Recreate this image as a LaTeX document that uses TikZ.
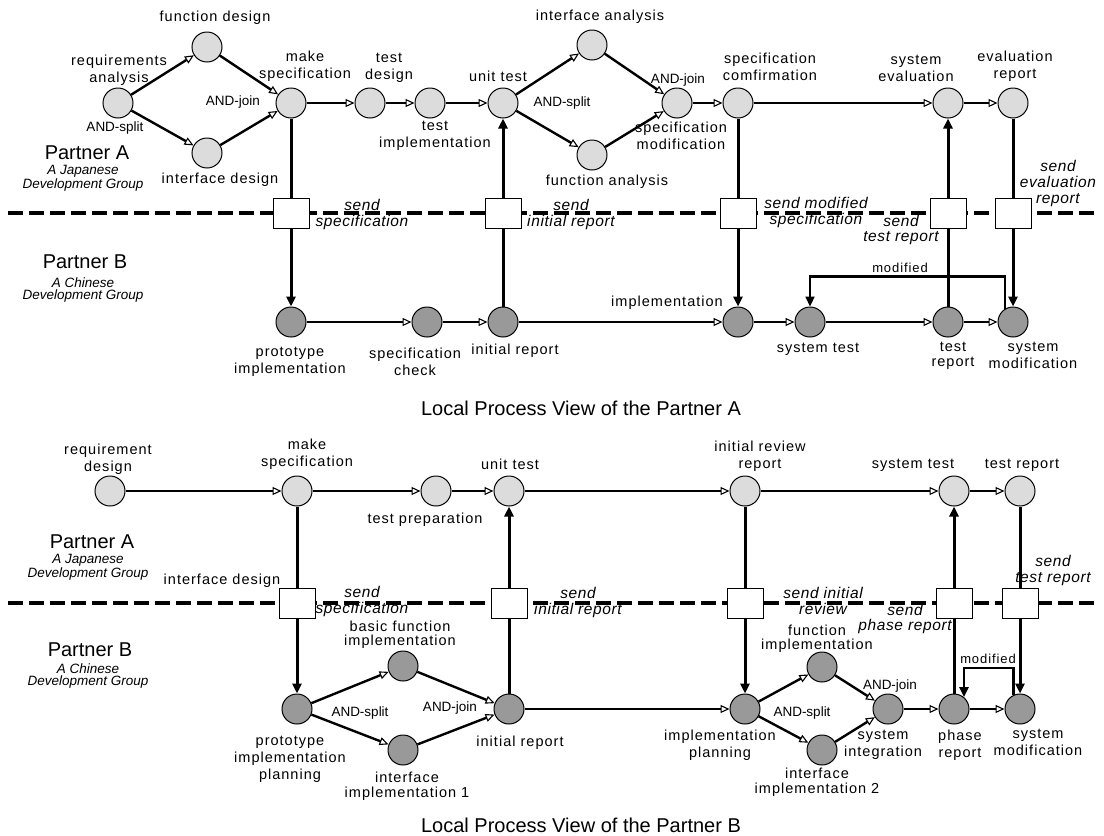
\documentclass[tikz,border=0pt]{standalone}
\usepackage{fontspec}
\setmainfont{Liberation Sans}
\newfontfamily\lblfont[LetterSpace=7]{Liberation Sans}
\newfontfamily\sndfont[LetterSpace=4]{Liberation Sans}
\usetikzlibrary{arrows.meta,calc}
\definecolor{lightg}{HTML}{DCDCDC}
\definecolor{darkg}{HTML}{999999}
\begin{document}
\begin{tikzpicture}[x=1pt,y=-1pt,
  plA/.style={circle, draw, line width=1pt, fill=lightg, minimum size=30pt, inner sep=0pt},
  plB/.style={circle, draw, line width=1pt, fill=darkg, minimum size=30pt, inner sep=0pt},
  trn/.style={rectangle, draw, line width=1pt, fill=white, minimum width=36pt, minimum height=30pt, inner sep=0pt},
  fl/.style={line width=2.4pt, -{Triangle[open, length=9pt, width=8pt, line width=1.1pt]}},
  ln/.style={line width=3pt},
  ar/.style={line width=3pt, -{Triangle[length=10pt, width=9pt]}},
  modarr/.style={line width=2.2pt, -{Triangle[length=10pt, width=9pt]}},
  sepline/.style={line width=4pt, dash pattern=on 15pt off 6pt},
  lbl/.style={font=\lblfont\fontsize{14.5}{17}\selectfont, align=center, inner sep=0pt},
  andl/.style={font=\fontsize{13.5}{15}\selectfont, inner sep=0pt},
  snd/.style={font=\sndfont\itshape\fontsize{15.5}{16}\selectfont, align=center, inner sep=0pt},
  ptn/.style={font=\fontsize{20}{22}\selectfont, inner sep=0pt},
  grp/.style={font=\itshape\fontsize{13.5}{12}\selectfont, align=center, inner sep=0pt},
  ttl/.style={font=\fontsize{20}{22}\selectfont, inner sep=0pt}
]
\useasboundingbox (0,0) rectangle (1104,836);

% ================= TOP DIAGRAM =================
\draw[sepline] (8,213) -- (1096,213);

% places partner A
\node[plA] (ra) at (118,103) {};
\node[plA] (fd) at (207,47) {};
\node[plA] (id) at (207,153) {};
\node[plA] (ms) at (291,103) {};
\node[plA] (td) at (370,103) {};
\node[plA] (ti) at (430,103) {};
\node[plA] (ut) at (503,103) {};
\node[plA] (ia) at (592,45) {};
\node[plA] (fa) at (592,155) {};
\node[plA] (smf) at (677,103) {};
\node[plA] (sc) at (738,103) {};
\node[plA] (se) at (948,103) {};
\node[plA] (er) at (1013,103) {};

% transitions
\node[trn] (b1) at (291,213) {};
\node[trn] (b2) at (503,213) {};
\node[trn] (b3) at (738,213) {};
\node[trn] (b4) at (948,213) {};
\node[trn] (b5) at (1013,213) {};

% places partner B
\node[plB] (pi) at (291,322) {};
\node[plB] (sck) at (427,322) {};
\node[plB] (ir) at (503,322) {};
\node[plB] (im) at (738,322) {};
\node[plB] (st) at (810,322) {};
\node[plB] (tr) at (948,322) {};
\node[plB] (smo) at (1013,322) {};

% edges partner A
\draw[fl] (ra) -- (fd);
\draw[fl] (ra) -- (id);
\draw[fl] (fd) -- (ms);
\draw[fl] (id) -- (ms);
\draw[fl] (ms) -- (td);
\draw[fl] (td) -- (ti);
\draw[fl] (ti) -- (ut);
\draw[fl] (ut) -- (ia);
\draw[fl] (ut) -- (fa);
\draw[fl] (ia) -- (smf);
\draw[fl] (fa) -- (smf);
\draw[fl] (smf) -- (sc);
\draw[fl] (sc) -- (se);
\draw[fl] (se) -- (er);

% cross edges
\draw[ln] (ms) -- (b1);
\draw[ar] (b1) -- (pi);
\draw[ln] (ir) -- (b2);
\draw[ar] (b2) -- (ut);
\draw[ln] (sc) -- (b3);
\draw[ar] (b3) -- (im);
\draw[ln] (tr) -- (b4);
\draw[ar] (b4) -- (se);
\draw[ln] (er) -- (b5);
\draw[ar] (b5) -- (smo);

% edges partner B
\draw[fl] (pi) -- (sck);
\draw[fl] (sck) -- (ir);
\draw[fl] (ir) -- (im);
\draw[fl] (im) -- (st);
\draw[fl] (st) -- (tr);
\draw[fl] (tr) -- (smo);
\draw[modarr] (smo.120) -- ++(0,-32) -| (st.north);

% labels top
\node[lbl] (l1) at (215,18) {function design};
\node[lbl] (l2) at (119,70) {requirements\\analysis};
\node[andl] (l3) at (115,128) {AND-split};
\node[lbl] (l4) at (305,66) {make\\specification};
\node[andl] (l5) at (233,102) {AND-join};
\node[lbl] (l6) at (220,180) {interface design};
\node[ptn] (l7) at (87,153) {Partner A};
\node[grp] (l8) at (83,178) {A Japanese\\Development Group};
\node[lbl] (l9) at (389,68) {test\\design};
\node[lbl] (l10) at (435,136) {test\\implementation};
\node[lbl] (l11) at (498,76) {unit test};
\node[andl] (l12) at (562,103) {AND-split};
\node[lbl] (l13) at (600,17) {interface analysis};
\node[lbl] (l14) at (607,182) {function analysis};
\node[andl] (l15) at (678,80) {AND-join};
\node[lbl] (l16) at (681,136) {specification\\modification};
\node[lbl] (l17) at (770,67) {specification\\comfirmation};
\node[lbl] (l18) at (916,68) {system\\evaluation};
\node[lbl] (l19) at (1015,66) {evaluation\\report};
\node[snd] (l20) at (1058,183) {send\\evaluation\\report};
\node[snd] (l21) at (362,214) {send\\specification};
\node[snd] (l22) at (571,214) {send\\initial report};
\node[snd] (l23) at (816,212) {send modified\\specification};
\node[snd,font=\sndfont\itshape\fontsize{15.5}{14.5}\selectfont] (l24) at (901,230) {send\\test report};
\node[andl] (l25) at (900,268) {\lblfont\fontsize{13}{14}\selectfont modified};
\node[ptn] (l26) at (85,262) {Partner B};
\node[grp] (l27) at (83,290) {A Chinese\\Development Group};
\node[lbl] (l28) at (290,362) {prototype\\implementation};
\node[lbl] (l29) at (415,362) {specification\\check};
\node[lbl] (l30) at (515,351) {initial report};
\node[lbl] (l31) at (667,303) {implementation};
\node[lbl] (l32) at (818,349) {system test};
\node[lbl,font=\lblfont\fontsize{14.5}{15}\selectfont] (l33) at (953,356) {test\\report};
\node[lbl] (l34) at (1033,355) {system\\modification};
\node[ttl] (t1) at (581,408) {Local Process View of the Partner A};

% ================= BOTTOM DIAGRAM =================
\draw[sepline] (8,603) -- (1096,603);

\node[plA] (rd) at (110,491) {};
\node[plA] (ms2) at (297,491) {};
\node[plA] (tp) at (436,491) {};
\node[plA] (ut2) at (509,491) {};
\node[plA] (irr) at (745,491) {};
\node[plA] (st2) at (954,491) {};
\node[plA] (tr2) at (1020,491) {};

\node[trn] (c1) at (297,603) {};
\node[trn] (c2) at (509,603) {};
\node[trn] (c3) at (745,603) {};
\node[trn] (c4) at (954,603) {};
\node[trn] (c5) at (1020,603) {};

\node[plB] (ppl) at (297,709) {};
\node[plB] (bfi) at (403,666) {};
\node[plB] (ii1) at (403,750) {};
\node[plB] (ir2) at (509,709) {};
\node[plB] (ip) at (745,709) {};
\node[plB] (fi) at (822,667) {};
\node[plB] (ii2) at (822,750) {};
\node[plB] (si) at (888,709) {};
\node[plB] (pr) at (954,709) {};
\node[plB] (smo2) at (1020,709) {};

\draw[fl] (rd) -- (ms2);
\draw[fl] (ms2) -- (tp);
\draw[fl] (tp) -- (ut2);
\draw[fl] (ut2) -- (irr);
\draw[fl] (irr) -- (st2);
\draw[fl] (st2) -- (tr2);

\draw[ln] (ms2) -- (c1);
\draw[ar] (c1) -- (ppl);
\draw[ln] (ir2) -- (c2);
\draw[ar] (c2) -- (ut2);
\draw[ln] (irr) -- (c3);
\draw[ar] (c3) -- (ip);
\draw[ln] (pr) -- (c4);
\draw[ar] (c4) -- (st2);
\draw[ln] (tr2) -- (c5);
\draw[ar] (c5) -- (smo2);

\draw[fl] (ppl) -- (bfi);
\draw[fl] (ppl) -- (ii1);
\draw[fl] (bfi) -- (ir2);
\draw[fl] (ii1) -- (ir2);
\draw[fl] (ir2) -- (ip);
\draw[fl] (ip) -- (fi);
\draw[fl] (ip) -- (ii2);
\draw[fl] (fi) -- (si);
\draw[fl] (ii2) -- (si);
\draw[fl] (si) -- (pr);
\draw[fl] (pr) -- (smo2);
\draw[modarr] (smo2.115) -- ++(0,-27) -| (pr.50);

\node[lbl] (m1) at (108,459) {requirement\\design};
\node[lbl] (m2) at (307,454) {make\\specification};
\node[lbl] (m3) at (425,520) {test preparation};
\node[lbl] (m4) at (510,464) {unit test};
\node[lbl] (m5) at (760,456) {initial review\\report};
\node[lbl] (m6) at (913,465) {system test};
\node[lbl] (m7) at (1022,465) {test report};
\node[ptn] (m8) at (92,542) {Partner A};
\node[grp] (m9) at (88,567) {A Japanese\\Development Group};
\node[lbl] (m10) at (222,581) {interface design};
\node[snd] (m11) at (1053,570) {send\\test report};
\node[snd] (m12) at (362,601) {send\\specification};
\node[snd] (m13) at (578,602) {send\\initial report};
\node[snd] (m14) at (823,601) {send initial\\review};
\node[snd,font=\sndfont\itshape\fontsize{15.5}{14.5}\selectfont] (m15) at (905,619) {send\\phase report};
\node[ptn] (m16) at (90,650) {Partner B};
\node[grp] (m17) at (88,676) {A Chinese\\Development Group};
\node[lbl] (m18) at (290,759) {prototype\\implementation\\planning};
\node[lbl,font=\lblfont\fontsize{14.5}{14}\selectfont] (m19) at (400,635) {basic function\\implementation};
\node[andl] (m20) at (360,713) {AND-split};
\node[andl] (m21) at (450,708) {AND-join};
\node[lbl,font=\lblfont\fontsize{14.5}{15}\selectfont] (m22) at (407,786) {interface\\implementation 1};
\node[lbl] (m23) at (520,743) {initial report};
\node[lbl] (m24) at (720,745) {implementation\\planning};
\node[lbl,font=\lblfont\fontsize{14.5}{14}\selectfont] (m25) at (817,639) {function\\implementation};
\node[lbl,font=\lblfont\fontsize{14.5}{15}\selectfont] (m26) at (817,782) {interface\\implementation 2};
\node[andl] (m27) at (802,713) {AND-split};
\node[andl] (m28) at (890,686) {AND-join};
\node[lbl] (m29) at (883,745) {system\\integration};
\node[lbl] (m30) at (960,745) {phase\\report};
\node[lbl] (m31) at (1038,742) {system\\modification};
\node[andl] (m32) at (988,659) {\lblfont\fontsize{13}{14}\selectfont modified};
\node[ttl] (t2) at (581,825) {Local Process View of the Partner B};
\end{tikzpicture}
\end{document}
